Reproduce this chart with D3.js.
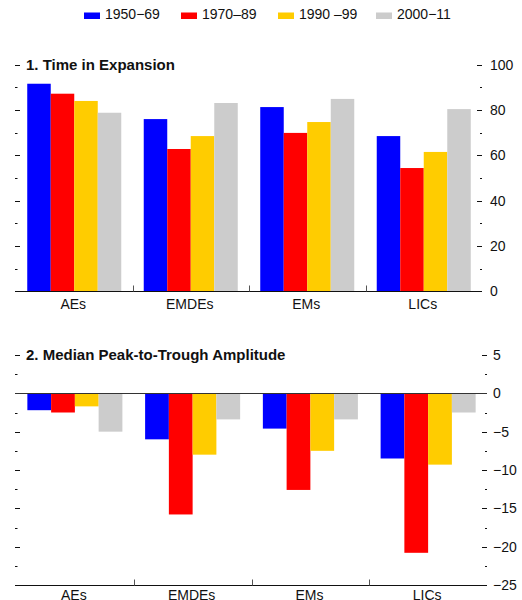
<!DOCTYPE html>
<html>
<head>
<meta charset="utf-8">
<script src="https://cdn.jsdelivr.net/npm/d3@7"></script>
<style>
  body { margin: 0; background: #fff; }
  svg { display: block; font-family: "Liberation Sans", Arial, sans-serif; }
</style>
</head>
<body>
<svg id="chart" width="522" height="600"></svg>
<script>
const categories = ["AEs", "EMDEs", "EMs", "LICs"];
const seriesNames = ["1950\u221269", "1970\u201389", "1990 \u201399", "2000\u221211"];
const seriesColors = ["#0000FF", "#FF0000", "#FFCC00", "#CCCCCC"];

// Panel 1: Time in Expansion (percent)
const expansion1950 = [91.6, 76.0, 81.3, 68.5];
const expansion1970 = [87.2, 62.8, 69.9, 54.4];
const expansion1990 = [84.0, 68.5, 74.7, 61.5];
const expansion2000 = [78.8, 83.1, 84.9, 80.4];

// Panel 2: Median Peak-to-Trough Amplitude
const amplitude1950 = [-2.2, -6.0, -4.6, -8.5];
const amplitude1970 = [-2.5, -15.8, -12.6, -20.8];
const amplitude1990 = [-1.7, -8.0, -7.5, -9.3];
const amplitude2000 = [-5.0, -3.4, -3.4, -2.5];

const panel1Ticks = [0, 20, 40, 60, 80, 100];
const panel2Ticks = [-25, -20, -15, -10, -5, 0, 5];

const svg = d3.select("#chart");

// Legend
const legendX = [84, 181, 278, 376];
const legend = svg.append("g");
seriesNames.forEach((name, i) => {
  legend.append("rect").attr("x", legendX[i]).attr("y", 12.5)
    .attr("width", 16).attr("height", 6.5).attr("fill", seriesColors[i]);
  legend.append("text").attr("x", legendX[i] + 21).attr("y", 19)
    .attr("font-size", 14).attr("fill", "#111").text(name);
});

function drawPanel(cfg) {
  const g = svg.append("g");
  const x0 = d3.scaleBand().domain(categories).range([cfg.left, cfg.right])
    .paddingInner(0.193).paddingOuter(0.0965);
  const x1 = d3.scaleBand().domain(d3.range(seriesNames.length))
    .range([0, x0.bandwidth()]).padding(0);
  const y = d3.scaleLinear().domain(cfg.domain).range([cfg.bottom, cfg.top]);

  // bars
  cfg.series.forEach((vals, si) => {
    g.selectAll(null).data(vals).join("rect")
      .attr("x", (d, i) => x0(categories[i]) + x1(si))
      .attr("width", x1.bandwidth())
      .attr("y", d => y(Math.max(0, d)))
      .attr("height", d => Math.abs(y(d) - y(0)))
      .attr("fill", seriesColors[si]);
  });

  // minor+major ticks
  const allTicks = d3.range(cfg.domain[0], cfg.domain[1] + cfg.minor / 2, cfg.minor);
  allTicks.forEach(t => {
    const major = cfg.ticks.some(m => Math.abs(m - t) < 1e-6);
    const yy = Math.round(y(t)) + 0.5;
    g.append("line").attr("x1", cfg.left - 1).attr("x2", cfg.left - 1 + (major ? 5 : 2.5))
      .attr("y1", yy).attr("y2", yy).attr("stroke", "#111").attr("stroke-width", 1);
    g.append("line").attr("x1", cfg.right - (major ? 5 : 2)).attr("x2", cfg.right)
      .attr("y1", yy).attr("y2", yy).attr("stroke", "#111").attr("stroke-width", 1);
  });

  // right axis labels
  const yAxis = d3.axisRight(y).tickValues(cfg.ticks).tickSize(0).tickPadding(0)
    .tickFormat(d3.format("d"));
  const ax = g.append("g").attr("transform", `translate(${cfg.labelX},0)`).call(yAxis);
  ax.select(".domain").remove();
  ax.selectAll("text").attr("font-size", 14).attr("fill", "#111")
    .attr("font-family", "Liberation Sans, Arial, sans-serif");

  // zero line
  if (cfg.domain[0] < 0) {
    g.append("line").attr("x1", cfg.left - 1).attr("x2", cfg.right)
      .attr("y1", Math.round(y(0)) + 0.5).attr("y2", Math.round(y(0)) + 0.5)
      .attr("stroke", "#333").attr("stroke-width", 1);
  }

  // bottom axis line
  const by = Math.round(cfg.bottom) + 0.5;
  g.append("line").attr("x1", cfg.left - 1).attr("x2", cfg.right)
    .attr("y1", by).attr("y2", by).attr("stroke", "#111").attr("stroke-width", 1.2);

  // category separators
  for (let i = 1; i < categories.length; i++) {
    const xx = Math.round(cfg.left + i * (cfg.right - cfg.left) / categories.length) + 0.5;
    g.append("line").attr("x1", xx).attr("x2", xx).attr("y1", by).attr("y2", by - 6)
      .attr("stroke", "#555").attr("stroke-width", 1);
  }

  // category labels
  g.selectAll(null).data(categories).join("text")
    .attr("x", d => x0(d) + x0.bandwidth() / 2 - 1)
    .attr("y", cfg.catY)
    .attr("text-anchor", "middle").attr("font-size", 14).attr("fill", "#111")
    .text(d => d);

  // title
  g.append("text").attr("x", 26).attr("y", cfg.titleY)
    .attr("font-size", 15).attr("font-weight", "bold").attr("fill", "#111")
    .text(cfg.title);
}

drawPanel({
  title: "1. Time in Expansion",
  series: [expansion1950, expansion1970, expansion1990, expansion2000],
  domain: [0, 100], ticks: panel1Ticks, minor: 10,
  left: 16, right: 482, top: 64.7, bottom: 291.3,
  labelX: 490, catY: 309, titleY: 69.5
});

drawPanel({
  title: "2. Median Peak-to-Trough Amplitude",
  series: [amplitude1950, amplitude1970, amplitude1990, amplitude2000],
  domain: [-25, 5], ticks: panel2Ticks, minor: 2.5,
  left: 16, right: 487, top: 355, bottom: 585,
  labelX: 493, catY: 600, titleY: 360
});
</script>
</body>
</html>
